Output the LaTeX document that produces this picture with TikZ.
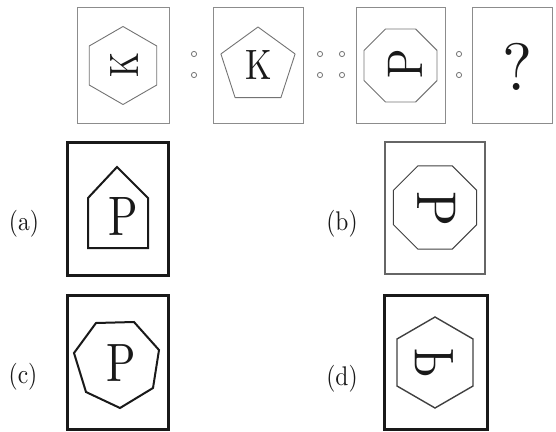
\documentclass[tikz,border=0pt]{standalone}
\usepackage{fontspec}
\usepackage{graphicx}
\newfontfamily\lmten{lmroman10-regular}[Extension=.otf]
\newcommand{\fsz}[1]{\fontsize{#1}{#1}\selectfont}
\begin{document}
\begin{tikzpicture}[x=1pt,y=-1pt,
  topbox/.style={draw=black!45,line width=1pt},
  topshape/.style={draw=black!55,line width=0.9pt,line join=round},
  thinbox/.style={draw=black!60,line width=1.1pt},
  thinshape/.style={draw=black!75,line width=1pt},
  thickbox/.style={draw=black!90,line width=3pt},
  thickshape/.style={draw=black!90,line width=2pt,line join=miter},
  dotc/.style={draw=black!55,line width=0.8pt,fill=white},
  glyph/.style={inner sep=0pt,text=black!90,font=\lmten},
  lab/.style={inner sep=0pt,text=black!90,font=\lmten}]
\useasboundingbox (0,0) rectangle (556,431);
% top row boxes
\draw[topbox] (77,7) rectangle (169,123);
\draw[topbox] (213,7) rectangle (303,123);
\draw[topbox] (356,7) rectangle (445,123);
\draw[topbox] (472,7) rectangle (552,123);
% shapes
\draw[topshape,shift={(123,65.5)}] (30:39) -- (90:39) -- (150:39) -- (210:39) -- (270:39) -- (330:39) -- cycle;
\draw[topshape,shift={(258,66)}] (270:39) -- (342:39) -- (54:39) -- (126:39) -- (198:39) -- cycle;
\draw[topshape,shift={(400.5,65.5)}] (22.5:39.5) -- (67.5:39.5) -- (112.5:39.5) -- (157.5:39.5) -- (202.5:39.5) -- (247.5:39.5) -- (292.5:39.5) -- (337.5:39.5) -- cycle;
% letters
\node[glyph] (k1) at (124,65) {\fsz{41}\rotatebox{90}{\scalebox{0.78}[1]{K}}};
\node[glyph] (k2) at (259,65) {\fsz{42.5}\scalebox{0.8}[1]{K}};
\node[glyph] (p3) at (405,63.5) {\fsz{50}\rotatebox{90}{\scalebox{0.87}[1]{P}}};
\node[glyph] (q4) at (518,66.5) {\fsz{67}\scalebox{0.95}[1]{?}};
% dots
\foreach \x in {194,320,342,459}{
  \draw[dotc] (\x,54) circle (2.6);
  \draw[dotc] (\x,75) circle (2.6);
}
% option (a)
\draw[thickbox] (67,142) rectangle (168,275);
\draw[thickshape] (117,167) -- (148,198) -- (148,248) -- (88,248) -- (88,198) -- cycle;
\node[glyph] (pa) at (123.5,217) {\fsz{55.6}\scalebox{0.78}[1]{P}};
\node[lab] (la) at (24,224) {\fsz{27}\scalebox{0.87}[1]{(a)}};
% option (b)
\draw[thinbox] (385,142) rectangle (485,274);
\draw[thinshape,shift={(435,207.5)}] (22.5:45) -- (67.5:45) -- (112.5:45) -- (157.5:45) -- (202.5:45) -- (247.5:45) -- (292.5:45) -- (337.5:45) -- cycle;
\node[glyph] (pb) at (437,209) {\fsz{56}\rotatebox{-90}{\scalebox{0.92}[1]{P}}};
\node[lab] (lb) at (342,224) {\fsz{27}\scalebox{0.87}[1]{(b)}};
% option (c)
\draw[thickbox] (67,295) rectangle (168,429);
\draw[thickshape] (96,323) -- (134,322) -- (159,350) -- (153,388) -- (120,408) -- (86,392) -- (74,353) -- cycle;
\node[glyph] (pc) at (121.5,363.5) {\fsz{54}\scalebox{0.8}[1]{P}};
\node[lab] (lc) at (23,377) {\fsz{27}\scalebox{0.87}[1]{(c)}};
% option (d)
\draw[thickbox] (384,295) rectangle (487,429);
\draw[thinshape,line width=1.4pt] (435,317) -- (473,339) -- (473,386) -- (435,408) -- (397,386) -- (397,339) -- cycle;
\node[glyph] (pd) at (434.5,363.5) {\fsz{56}\reflectbox{\rotatebox{-90}{\scalebox{0.78}[1]{P}}}};
\node[lab] (ld) at (342,379) {\fsz{27}\scalebox{0.87}[1]{(d)}};
\end{tikzpicture}
\end{document}
